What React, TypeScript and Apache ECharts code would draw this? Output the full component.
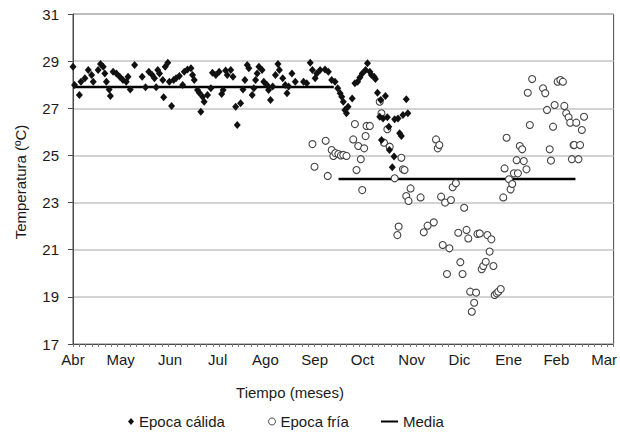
import React, { useEffect, useRef } from "react";
import * as echarts from "echarts";

// X axis: days since 1 April
const monthNames = ["Abr", "May", "Jun", "Jul", "Ago", "Sep", "Oct", "Nov", "Dic", "Ene", "Feb", "Mar"];
const monthStartDays = [0, 30, 61, 91, 121, 152, 182, 213, 243, 274, 304, 334];

// Epoca cálida (warm season) daily temperatures
const warmDays = [
  0, 1, 4, 5, 7.5, 9.6, 11.7, 12.7, 15.8, 17.3, 19, 20, 21, 22.7, 23.5, 25.2, 27.3, 29.4, 31.4, 33.5,
  34.6, 36, 38.75, 43.5, 45.6, 47.7, 49.8, 51.25, 52.3, 53.3, 54.4, 56.5, 57, 58, 59.6, 60.6, 62, 63.3,
  64.8, 66.9, 69, 70, 72, 74.2, 75.2, 76.25, 78.3, 79.4, 80.4, 81.5, 82.5, 84.6, 86.7, 87.7, 89.8, 91.9,
  93.5, 94.4, 96, 97, 99.2, 100.6, 102.3, 103.3, 105.4, 106.9, 108.1, 109.6, 110.6, 112.7, 113.75, 114.8,
  115.8, 116.9, 118.9, 120, 122, 123, 124.2, 125.6, 127.3, 128.9, 129.8, 131.9, 133.5, 134.6, 135.6,
  137.7, 139.8, 145, 147, 149.2, 150.6, 152.3, 153.3, 155.4, 158.5, 160.6, 162.7, 164.8, 166.5, 168,
  169, 170, 171, 172, 173, 175.6, 177.3, 179, 180.4, 181.9, 184, 185.2, 186.7, 187.7, 189.4, 190.2,
  191.5, 193.6, 196.5, 192.9, 195, 197.7, 198.6, 202.3, 204.4, 205.4, 206.5, 207.5, 209.6, 210.6,
  194, 199, 201.9, 200.8,
];
const warmTemps = [
  28.76, 27.99, 27.56, 28.13, 28.27, 28.62, 28.41, 28.13, 28.62, 28.88, 28.76, 28.48, 28.13, 27.8, 27.52,
  28.55, 28.48, 28.34, 28.2, 28.13, 28.34, 27.8, 28.84, 28.34, 27.89, 28.55, 28.41, 28.27, 27.89, 28.62,
  28.48, 28.2, 27.47, 28.76, 28.93, 28.13, 27.1, 28.2, 28.27, 28.37, 27.99, 28.55, 28.65, 28.7, 28.41,
  28.2, 27.78, 27.66, 26.85, 27.49, 27.28, 27.56, 27.85, 28.51, 28.41, 28.55, 27.61, 27.78, 28.6, 28.41,
  28.62, 28.34, 27.07, 26.29, 27.21, 27.8, 28.2, 28.84, 28.7, 27.56, 27.85, 28.2, 28.48, 28.76, 28.62,
  28.13, 27.99, 27.78, 27.35, 27.92, 28.41, 28.88, 28.62, 28.27, 27.99, 27.64, 27.92, 28.48, 28.13,
  28.13, 28.06, 28.93, 28.62, 28.27, 28.48, 28.62, 28.65, 28.55, 28.2, 28.13, 27.85, 27.64, 27.49,
  27.28, 26.93, 26.79, 27.07, 27.42, 28.06, 28.13, 28.31, 28.48, 28.62, 28.91, 28.55, 28.41, 28.34,
  28.24, 27.66, 27.35, 27.52, 26.64, 26.57, 26.62, 26.22, 26.53, 26.57, 25.94, 25.82, 26.72, 27.38,
  26.79, 25.65, 25.23, 24.95, 24.5,
];

// Epoca fría (cold season) daily temperatures
const coldDays = [
  150.6, 151.9, 158.9, 160.2, 162.7, 163.75, 165, 166.9, 168.5, 170, 172, 176.25, 177.3, 178.3, 179.4,
  181, 181.9, 183.1, 184, 184.6, 186.7, 192.9, 194, 195.6, 197.7, 199.2, 202.3, 204, 204.8, 206.5,
  207.5, 208.5, 209.6, 211, 212.3, 218.6, 220.6, 223, 226.9, 228.3, 229.4, 230.4, 231.5, 232.5, 234,
  235.2, 236.7, 237.7, 238.75, 240.8, 242.3, 243.6, 245, 246, 247.5, 248.6, 249.8, 250.8, 252.3, 253.5,
  254.4, 255.8, 257, 258, 259.6, 260.6, 262, 263.1, 264.4, 265.2, 266.4, 267.5, 269, 270.6, 271.4,
  272.7, 274.2, 275.2, 276.25, 277.3, 279, 279.8, 281, 282.5, 283.5, 285.2, 286, 287.3, 288.75, 295.6,
  297, 298.1, 299.8, 300.6, 301.9, 302.9, 304.8, 306.5, 308.1, 309, 310.2, 311.7, 312.7, 313.75, 314.8,
  315.2, 316.5, 317.9, 318.9, 320, 321.4,
];
const coldTemps = [
  25.48, 24.52, 25.62, 24.13, 25.23, 24.98, 25.1, 25.06, 25.0, 25.02, 24.98, 25.68, 26.33, 24.38, 25.4,
  24.84, 23.53, 25.3, 25.82, 26.25, 26.25, 27.28, 26.79, 25.54, 26.11, 25.37, 24.03, 21.62, 21.98, 24.9,
  24.41, 24.38, 23.28, 23.07, 23.6, 23.22, 21.74, 22.02, 22.16, 25.68, 25.3, 25.44, 23.25, 21.2, 23.0,
  19.97, 21.06, 23.11, 23.65, 23.82, 21.72, 20.47, 19.97, 22.78, 21.84, 21.48, 19.22, 18.37, 18.75, 19.18,
  21.67, 21.69, 20.17, 20.31, 20.49, 21.62, 20.92, 21.44, 20.31, 19.08, 19.15, 19.22, 19.33, 23.22, 24.45,
  25.75, 23.99, 23.56, 23.79, 24.24, 24.8, 24.24, 25.4, 25.26, 24.76, 24.41, 27.66, 26.29, 28.24, 27.85,
  27.64, 26.93, 25.26, 24.78, 26.22, 27.14, 28.13, 28.2, 28.13, 27.1, 26.79, 26.62, 26.39, 24.84, 25.44,
  25.44, 26.39, 24.84, 25.44, 26.08, 26.64,
];

// Media (mean of each season) and the day span it covers
const warmMean = 27.9;
const warmMeanSpan = [0, 164];
const coldMean = 24.0;
const coldMeanSpan = [167, 316];

const FONT = '"Liberation Sans", Arial, sans-serif';
const TXT = "#1a1a1a";

export default function App() {
  const ref = useRef<HTMLDivElement>(null);

  useEffect(() => {
    if (!ref.current) return;
    const chart = echarts.init(ref.current, null, { renderer: "svg" });

    const tickDays: number[] = [];
    for (let d = 0; d <= 340; d += 4) tickDays.push(d);

    const option = {
      animation: false,
      backgroundColor: "#ffffff",
      textStyle: { fontFamily: FONT, color: TXT },
      grid: {
        left: 73,
        right: 3,
        top: 14,
        bottom: 92,
        show: true,
        borderColor: "#4a4a4a",
        borderWidth: 1,
      },
      xAxis: {
        type: "value",
        min: 0,
        max: 340,
        axisLine: { show: true, lineStyle: { color: "#4a4a4a", width: 1 } },
        axisTick: {
          show: true,
          customValues: tickDays,
          length: 3,
          lineStyle: { color: "#777" },
        },
        axisLabel: {
          customValues: monthStartDays,
          margin: 8,
          fontSize: 15,
          fontFamily: FONT,
          color: TXT,
          formatter: (v: number) => {
            const i = monthStartDays.findIndex((d) => Math.abs(d - v) < 0.5);
            return i >= 0 ? monthNames[i] : "";
          },
        },
        splitLine: { show: false },
      },
      yAxis: {
        type: "value",
        min: 17,
        max: 31,
        interval: 2,
        axisLine: { show: true, lineStyle: { color: "#4a4a4a", width: 1 } },
        axisTick: { show: true, length: 5, lineStyle: { color: "#4a4a4a" } },
        axisLabel: { margin: 14, fontSize: 15, fontFamily: FONT, color: TXT },
        splitLine: { show: true, lineStyle: { color: "#c4c4c4", width: 1.5 } },
      },
      legend: [
        {
          data: [{ name: "Epoca cálida", icon: "diamond" }],
          left: 128,
          top: 414,
          padding: 0,
          itemWidth: 6,
          itemHeight: 7,
          textStyle: { fontSize: 15, fontFamily: FONT, color: TXT },
        },
        {
          data: [
            {
              name: "Epoca fría",
              icon: "circle",
              itemStyle: { color: "#ffffff", borderColor: "#444", borderWidth: 1 },
            },
          ],
          left: 268,
          top: 414,
          padding: 0,
          itemWidth: 7,
          itemHeight: 7,
          textStyle: { fontSize: 15, fontFamily: FONT, color: TXT },
        },
        {
          data: [{ name: "Media", icon: "rect", itemStyle: { color: "#000" } }],
          left: 381,
          top: 414,
          padding: 0,
          itemWidth: 17,
          itemHeight: 2,
          textStyle: { fontSize: 15, fontFamily: FONT, color: TXT },
        },
      ],
      graphic: [
        {
          type: "text",
          x: 20,
          y: 182,
          rotation: Math.PI / 2,
          style: {
            text: "Temperatura (ºC)",
            font: `15px ${FONT}`,
            fill: TXT,
            textAlign: "center",
            textVerticalAlign: "middle",
          },
        },
        {
          type: "text",
          x: 290,
          y: 392,
          style: {
            text: "Tiempo (meses)",
            font: `15px ${FONT}`,
            fill: TXT,
            textAlign: "center",
            textVerticalAlign: "middle",
          },
        },
      ],
      series: [
        {
          name: "Media",
          type: "line",
          z: 1,
          showSymbol: false,
          symbol: "none",
          lineStyle: { color: "#000", width: 2.5 },
          itemStyle: { color: "#000" },
          data: warmMeanSpan.map((d) => [d, warmMean]),
        },
        {
          name: "Media",
          type: "line",
          z: 1,
          showSymbol: false,
          symbol: "none",
          lineStyle: { color: "#000", width: 2.5 },
          itemStyle: { color: "#000" },
          data: coldMeanSpan.map((d) => [d, coldMean]),
        },
        {
          name: "Epoca cálida",
          type: "scatter",
          z: 3,
          symbol: "diamond",
          symbolSize: [7, 8],
          itemStyle: { color: "#111", opacity: 1 },
          data: warmDays.map((d, i) => [d, warmTemps[i]]),
        },
        {
          name: "Epoca fría",
          type: "scatter",
          z: 2,
          symbol: "circle",
          symbolSize: 7,
          itemStyle: { color: "#ffffff", borderColor: "#444", borderWidth: 1.1, opacity: 1 },
          data: coldDays.map((d, i) => [d, coldTemps[i]]),
        },
      ],
    };

    chart.setOption(option as any);
    return () => chart.dispose();
  }, []);

  return (
    <div
      ref={ref}
      style={{ position: "fixed", left: 0, top: 0, width: 620, height: 436, background: "#fff" }}
    />
  );
}
